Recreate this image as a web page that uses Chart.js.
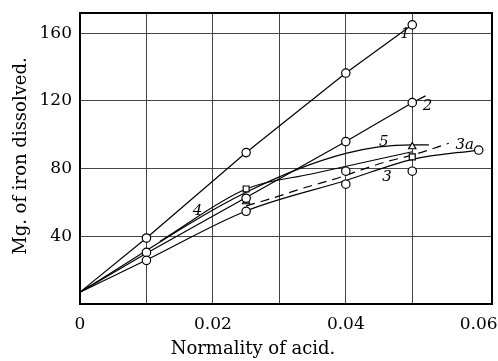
<!DOCTYPE html>
<html><head><meta charset="utf-8">
<script src="https://cdn.jsdelivr.net/npm/chart.js@4/dist/chart.umd.min.js"></script>
<style>html,body{margin:0;padding:0;background:#fff}#wrap{width:498px;height:361px}</style>
</head><body><div id="wrap"><canvas id="c" width="498" height="361"></canvas></div>
<script>
// ---- data ----
const xTickValues = [0, 0.01, 0.02, 0.03, 0.04, 0.05, 0.06];
const xTickLabels = ['0', '', '0.02', '', '0.04', '', '0.06'];
const yTickValues = [40, 80, 120, 160];

const curve1X = [0, 0.01, 0.025, 0.04, 0.05];
const curve1Y = [7, 39, 89.5, 136.5, 165];
const curve2X = [0, 0.01, 0.025, 0.04, 0.05, 0.052];
const curve2Y = [7, 30, 63, 96, 119, 123];
const curve5X = [0, 0.025, 0.04, 0.05, 0.0525];
const curve5Y = [7, 66, 89, 94, 94];
const curve4X = [0.012, 0.025, 0.035, 0.05];
const curve4Y = [37, 68, 77, 90];
const curve3X = [0, 0.01, 0.025, 0.04, 0.05, 0.06];
const curve3Y = [7, 26, 55, 73, 85.5, 91];
const curve3aX = [0.025, 0.0285, 0.034, 0.038, 0.046, 0.05, 0.0555];
const curve3aY = [58, 62, 69, 73.5, 84, 88, 95];

const circleX = [0.01, 0.025, 0.04, 0.05, 0.01, 0.025, 0.04, 0.05, 0.01, 0.025, 0.04, 0.05, 0.06, 0.04];
const circleY = [39, 89.5, 136.5, 165, 30.5, 62.5, 96, 119, 25.8, 54.8, 70.8, 78.5, 91, 78.5];
const squareX = [0.025, 0.05];
const squareY = [68, 87];
const triangleX = [0.025, 0.05];
const triangleY = [60.5, 93];

const curveLabels = ['1', '2', '5', '3a', '3', '4'];
const curveLabelX = [0.0489, 0.0523, 0.0457, 0.0579, 0.0462, 0.0177];
const curveLabelY = [159.7, 117, 95.7, 94, 75, 54.8];

const xTitle = 'Normality of acid.';
const yTitle = 'Mg. of iron dissolved.';

// ---- build ----
const pts = (xs, ys) => xs.map((v, i) => ({x: v, y: ys[i]}));
const lineDs = (xs, ys, curved, dash) => ({
  type: 'line', data: pts(xs, ys), borderColor: '#000', borderWidth: 1.2,
  pointRadius: 0, fill: false, order: 2, clip: false,
  tension: curved ? 0.4 : 0, cubicInterpolationMode: curved ? 'monotone' : 'default',
  borderDash: dash ? [9, 6] : []
});
const markDs = (xs, ys, style) => ({
  type: 'line', data: pts(xs, ys), showLine: false, order: 1, clip: false,
  pointStyle: style, pointRadius: 4.2, pointBackgroundColor: '#fff',
  pointBorderColor: '#000', pointBorderWidth: 1.2
});
const noPad = s => { s.paddingTop = 0; s.paddingBottom = 0; s.paddingLeft = 0; s.paddingRight = 0; };

const decor = {
  id: 'decor',
  afterDatasetsDraw(chart) {
    const {ctx, chartArea: a, scales: {x, y}} = chart;
    ctx.save();
    ctx.strokeStyle = '#000'; ctx.lineWidth = 2;
    ctx.strokeRect(a.left, a.top, a.right - a.left, a.bottom - a.top);
    ctx.fillStyle = '#000'; ctx.textAlign = 'center'; ctx.textBaseline = 'middle';
    ctx.font = 'italic 15px "DejaVu Serif"';
    curveLabels.forEach((t, i) => ctx.fillText(t, x.getPixelForValue(curveLabelX[i]), y.getPixelForValue(curveLabelY[i])));
    ctx.font = '18px "DejaVu Serif"';
    ctx.fillText(xTitle, 253, 349);
    ctx.translate(21, 156); ctx.rotate(-Math.PI / 2);
    ctx.fillText(yTitle, 0, 0);
    ctx.restore();
  }
};

new Chart(document.getElementById('c'), {
  data: {
    datasets: [
      lineDs(curve1X, curve1Y, false), lineDs(curve2X, curve2Y, false),
      lineDs(curve5X, curve5Y, true), lineDs(curve4X, curve4Y, true),
      lineDs(curve3X, curve3Y, true), lineDs(curve3aX, curve3aY, true, true),
      markDs(circleX, circleY, 'circle'), markDs(squareX, squareY, 'rect'),
      markDs(triangleX, triangleY, 'triangle')
    ]
  },
  options: {
    responsive: false, devicePixelRatio: 1, animation: false,
    layout: {padding: {top: 13, right: 6, left: 0, bottom: 0}},
    plugins: {legend: {display: false}, tooltip: {enabled: false}},
    scales: {
      x: {
        type: 'linear', min: 0, max: 0.062,
        afterBuildTicks: s => { s.ticks = xTickValues.map(v => ({value: v})); },
        afterFit: s => { s.height = 57; noPad(s); },
        ticks: {padding: 10, color: '#000', font: {family: 'DejaVu Serif', size: 17},
          maxRotation: 0, autoSkip: false,
          callback: (v, i) => xTickLabels[i]},
        grid: {drawTicks: false, color: c => (c.tick && (c.tick.value === 0 || c.tick.value === 0.06)) ? 'rgba(0,0,0,0)' : '#444', lineWidth: 1},
        border: {color: '#000', width: 2}
      },
      y: {
        type: 'linear', min: 0, max: 172,
        afterBuildTicks: s => { s.ticks = yTickValues.map(v => ({value: v})); },
        afterFit: s => { s.width = 80; noPad(s); },
        ticks: {padding: 8, color: '#000', font: {family: 'DejaVu Serif', size: 17},
          callback: v => String(v)},
        grid: {drawTicks: false, color: '#444', lineWidth: 1},
        border: {color: '#000', width: 2}
      }
    }
  },
  plugins: [decor]
});
</script></body></html>
